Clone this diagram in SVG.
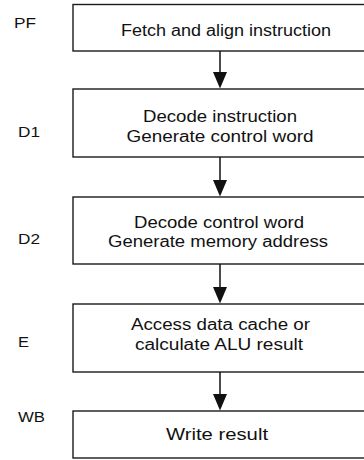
<svg xmlns="http://www.w3.org/2000/svg" width="364" height="460" viewBox="0 0 364 460">
<style>
.box{fill:#fff;stroke:#1a1a1a;stroke-width:1.4}
.t{font-family:"Liberation Sans",Arial,sans-serif;font-size:16px;fill:#111;text-anchor:middle}
.lbl{font-family:"Liberation Sans",Arial,sans-serif;font-size:15px;fill:#111}
.c{stroke:#111;stroke-width:1.5;fill:none}
.ah{fill:#111}
</style>
<rect width="364" height="460" fill="#fff"/>
<g id="node-pf">
<rect class="box" x="73" y="4.5" width="300" height="46.5"/>
<text class="t" x="226" y="36" textLength="210" lengthAdjust="spacingAndGlyphs">Fetch and align instruction</text>
<text class="lbl" x="14" y="28" textLength="22" lengthAdjust="spacingAndGlyphs">PF</text>
</g>
<g id="node-d1">
<rect class="box" x="73" y="89" width="300" height="68"/>
<text class="t" x="220" y="122" textLength="154" lengthAdjust="spacingAndGlyphs">Decode instruction</text>
<text class="t" x="220" y="142" textLength="187" lengthAdjust="spacingAndGlyphs">Generate control word</text>
<text class="lbl" x="18" y="137" textLength="22" lengthAdjust="spacingAndGlyphs">D1</text>
</g>
<g id="node-d2">
<rect class="box" x="73" y="197" width="300" height="67"/>
<text class="t" x="219" y="228" textLength="170" lengthAdjust="spacingAndGlyphs">Decode control word</text>
<text class="t" x="218" y="247" textLength="220" lengthAdjust="spacingAndGlyphs">Generate memory address</text>
<text class="lbl" x="18" y="244" textLength="22" lengthAdjust="spacingAndGlyphs">D2</text>
</g>
<g id="node-e">
<rect class="box" x="73" y="304" width="300" height="68"/>
<text class="t" x="220.5" y="330" textLength="179" lengthAdjust="spacingAndGlyphs">Access data cache or</text>
<text class="t" x="219" y="350" textLength="168" lengthAdjust="spacingAndGlyphs">calculate ALU result</text>
<text class="lbl" x="18" y="347" textLength="11" lengthAdjust="spacingAndGlyphs">E</text>
</g>
<g id="node-wb">
<rect class="box" x="73" y="411" width="300" height="47"/>
<text class="t" x="217" y="440" textLength="102" lengthAdjust="spacingAndGlyphs">Write result</text>
<text class="lbl" x="18" y="422" textLength="27" lengthAdjust="spacingAndGlyphs">WB</text>
</g>
<g id="connectors">
<line class="c" x1="220" y1="51" x2="220" y2="74"/>
<path class="ah" d="M213,72 L227,72 L220,88.5 Z"/>
<line class="c" x1="220" y1="157" x2="220" y2="182"/>
<path class="ah" d="M213,180 L227,180 L220,196.5 Z"/>
<line class="c" x1="220" y1="264" x2="220" y2="289"/>
<path class="ah" d="M213,287 L227,287 L220,303.5 Z"/>
<line class="c" x1="220" y1="372" x2="220" y2="396"/>
<path class="ah" d="M213,394 L227,394 L220,410.5 Z"/>
</g>
</svg>
